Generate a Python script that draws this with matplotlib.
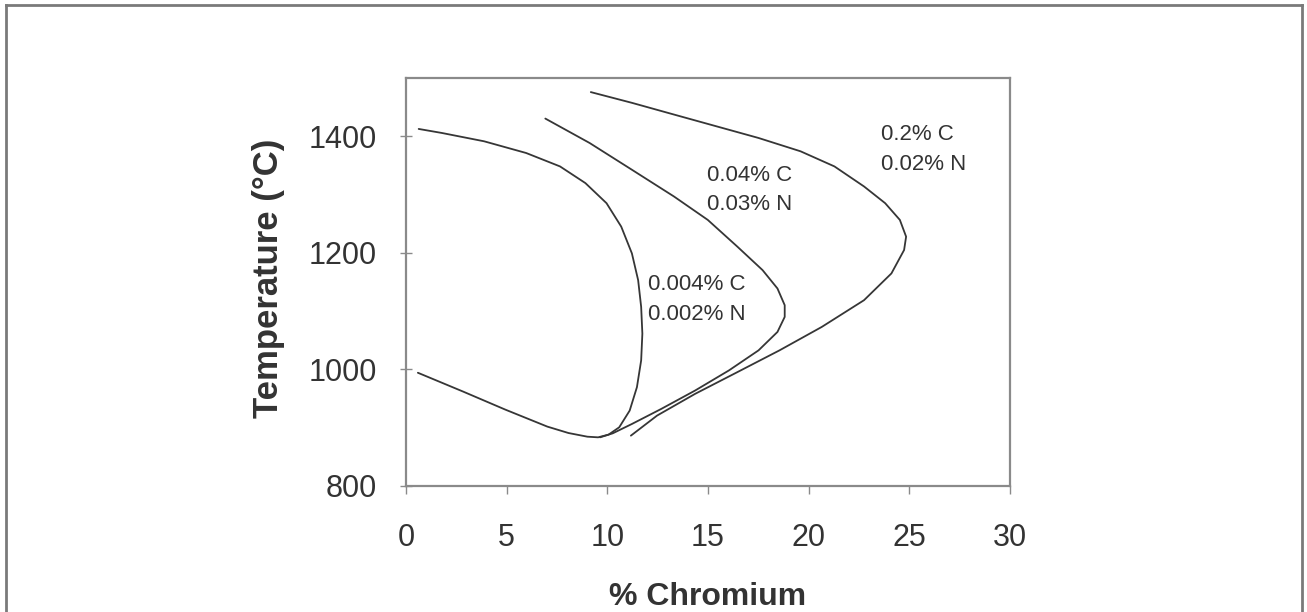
import matplotlib

matplotlib.use('Agg')
import matplotlib.pyplot as plt
from matplotlib.lines import Line2D

# Curve data (% Cr, temperature in °C)
low_c_cr = [0.63, 1.78, 3.88, 5.97, 7.65, 8.91, 9.96, 10.69, 11.22, 11.53, 11.68,
            11.74, 11.68, 11.47, 11.11, 10.59, 10.06, 9.54, 9.01, 8.07, 7.02,
            4.93, 2.83, 0.59]
low_c_temp = [1412.6, 1405.7, 1391.4, 1371.3, 1348.3, 1319.7, 1285.2, 1245.0,
              1199.1, 1153.2, 1107.3, 1061.4, 1015.5, 969.6, 929.4, 900.7, 888.1,
              883.5, 884.6, 890.9, 901.9, 931.1, 962.1, 994.3]

mid_c_cr = [6.92, 9.12, 11.22, 13.31, 14.99, 16.46, 17.71, 18.45, 18.81, 18.81,
            18.45, 17.51, 16.04, 14.36, 12.68, 11.22, 10.27, 9.64]
mid_c_temp = [1430.4, 1388.5, 1342.6, 1296.7, 1256.5, 1210.6, 1170.4, 1138.9,
              1110.2, 1090.1, 1064.3, 1032.7, 998.3, 963.8, 932.3, 906.4, 890.4,
              883.5]

high_c_cr = [9.18, 11.22, 13.31, 15.41, 17.51, 19.60, 21.28, 22.75, 23.80, 24.53,
             24.84, 24.74, 24.11, 22.75, 20.65, 18.55, 16.46, 14.36, 12.47, 11.17]
high_c_temp = [1475.8, 1457.4, 1437.3, 1417.2, 1397.1, 1374.2, 1348.3, 1313.9,
               1285.2, 1256.5, 1227.8, 1204.9, 1164.7, 1118.8, 1072.9, 1032.7,
               995.4, 958.1, 920.8, 886.4]

curve_labels = ['0.004% C\n0.002% N', '0.04% C\n0.03% N', '0.2% C\n0.02% N']
label_cr = [12.01, 14.95, 23.58]
label_temp = [1119.7, 1308.0, 1377.7]

x_ticks = [0, 5, 10, 15, 20, 25, 30]
y_ticks = [800, 1000, 1200, 1400]

LINE = '#363636'
SPINE = '#8a8a8a'
TEXT = '#333333'

plt.rcParams['font.family'] = ['Liberation Sans', 'DejaVu Sans']

fig = plt.figure(figsize=(13.07, 6.12), dpi=100)
ax = fig.add_axes([406 / 1307, 1 - 486 / 612, 604 / 1307, 408 / 612])

for xs, ys in [(low_c_cr, low_c_temp), (mid_c_cr, mid_c_temp), (high_c_cr, high_c_temp)]:
    ax.plot(xs, ys, color=LINE, linewidth=1.3, solid_capstyle='round',
            solid_joinstyle='round')

for lbl, xv, yv in zip(curve_labels, label_cr, label_temp):
    ax.text(xv, yv, lbl, fontsize=16, color=TEXT, ha='left', va='center',
            linespacing=1.55)

ax.set_xlim(0, 30)
ax.set_ylim(800, 1500)
ax.set_xticks(x_ticks)
ax.set_yticks(y_ticks)
ax.tick_params(axis='x', direction='out', length=6, width=1, color=SPINE,
               labelsize=22, labelcolor=TEXT, pad=21)
ax.tick_params(axis='y', direction='inout', length=8, width=1, color=SPINE,
               labelsize=22, labelcolor=TEXT, pad=17)

for spine in ax.spines.values():
    spine.set_color(SPINE)
    spine.set_linewidth(1.6)

fig.text(708 / 1307, 1 - 605 / 612, '% Chromium', fontsize=23, fontweight='bold',
         color=TEXT, ha='center', va='baseline')
fig.text(278 / 1307, 1 - 278 / 612, 'Temperature (°C)', fontsize=25,
         fontweight='bold', color=TEXT, rotation=90, ha='center', va='baseline',
         rotation_mode='anchor')

# outer frame of the scanned figure
for xs, ys in [([6, 6], [612, 5]), ([6, 1302], [5, 5]), ([1302, 1302], [5, 612])]:
    fig.add_artist(Line2D([x / 1307 for x in xs], [1 - y / 612 for y in ys],
                          transform=fig.transFigure, color='#7a7a7a', linewidth=2))

fig.savefig('out.png', dpi=100, facecolor='white')
